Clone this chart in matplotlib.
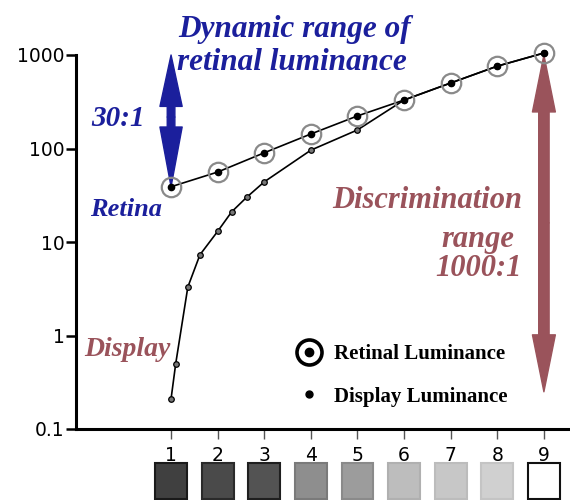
import matplotlib.pyplot as plt
from matplotlib.lines import Line2D
from matplotlib.patches import Rectangle
from matplotlib.legend_handler import HandlerTuple
import matplotlib.transforms as mtransforms

# data
steps = [1, 2, 3, 4, 5, 6, 7, 8, 9]
retinal = [39, 56, 90, 143, 223, 330, 502, 760, 1050]

display_x = [1, 1.1, 1.36, 1.62, 2, 2.3, 2.62, 3, 4, 5, 6, 7, 8, 9]
display = [0.21, 0.5, 3.3, 7.3, 13, 21, 30, 44, 96, 158, 330, 502, 760, 1050]

ytick_vals = [0.1, 1, 10, 100, 1000]
ytick_labels = ['0.1', '1', '10', '100', '1000']
xtick_labels = ['1', '2', '3', '4', '5', '6', '7', '8', '9']

swatch_colors = ['#404040', '#4a4a4a', '#535353', '#8e8e8e', '#9c9c9c',
                 '#bdbdbd', '#c7c7c7', '#d0d0d0', '#ffffff']
swatch_edges = ['#1a1a1a', '#2a2a2a', '#1f1f1f', '#7a7a7a', '#8a8a8a',
                '#b0b0b0', '#bcbcbc', '#c4c4c4', '#111111']

BLUE = '#1b1f9c'
MAROON = '#9a535b'
serif_bi = dict(family='Liberation Serif', weight='bold', style='italic')

fig = plt.figure(figsize=(5.7, 5.0), dpi=100)
ax = fig.add_axes([0.1333, 0.142, 0.8667, 0.748])
ax.set_yscale('log')
ax.set_ylim(0.1, 1000)
ax.set_xlim(-1.04, 9.56)

for side in ['top', 'right']:
    ax.spines[side].set_visible(False)
ax.spines['left'].set_linewidth(2.2)
ax.spines['bottom'].set_linewidth(2.2)

ax.set_yticks(ytick_vals)
ax.set_yticklabels(ytick_labels)
ax.minorticks_off()
ax.tick_params(axis='y', length=7, width=1.8, pad=1, labelsize=13.5)
ax.set_xticks(steps)
ax.set_xticklabels(xtick_labels)
ax.tick_params(axis='x', length=7, width=1.0, color='#555555', pad=5.5, labelsize=13.5)

# curves
ax.plot(display_x, display, color='black', lw=1.2, marker='o', ms=4,
        mfc='#777777', mec='black', mew=0.9, clip_on=False, zorder=3)
ax.plot(steps, retinal, color='black', lw=1.2, clip_on=False, zorder=3)
ax.plot(steps, retinal, ls='none', marker='o', ms=14, mfc='none',
        mec='#8a8a8a', mew=1.6, clip_on=False, zorder=4)
ax.plot(steps, retinal, ls='none', marker='o', ms=4.5, color='black',
        clip_on=False, zorder=5)

# grey swatches under the ticks
trans = mtransforms.blended_transform_factory(ax.transData, ax.transAxes)
for x, fc, ec in zip(steps, swatch_colors, swatch_edges):
    ax.add_patch(Rectangle((x - 0.34, -0.186), 0.68, 0.094, transform=trans,
                           facecolor=fc, edgecolor=ec, lw=1.5, clip_on=False))

# blue 30:1 arrow (two heads meeting at a neck)
blue_mid = 217
for tip, hl in [(1000, 37), (retinal[0], 43)]:
    ax.annotate('', xy=(1, tip), xytext=(1, blue_mid), annotation_clip=False,
                arrowprops=dict(arrowstyle=f'simple,head_length={hl},head_width=16,tail_width=5.5',
                                mutation_scale=1, color=BLUE, shrinkA=0, shrinkB=0))

# maroon discrimination arrow
m_mid = 16
m_style = 'simple,head_length=41,head_width=16.5,tail_width=7.5'
for tip in [1000, 0.25]:
    ax.annotate('', xy=(9, tip), xytext=(9, m_mid), annotation_clip=False,
                arrowprops=dict(arrowstyle=m_style, mutation_scale=1,
                                color=MAROON, shrinkA=0, shrinkB=0))

# labels
fig.text(0.5175, 0.942, 'Dynamic range of', color=BLUE, fontsize=22.5,
         ha='center', va='center', **serif_bi)
fig.text(0.512, 0.876, 'retinal luminance', color=BLUE, fontsize=22.5,
         ha='center', va='center', **serif_bi)
fig.text(0.207, 0.762, '30:1', color=BLUE, fontsize=21, ha='center',
         va='center', **serif_bi)
fig.text(0.221, 0.58, 'Retina', color=BLUE, fontsize=19, ha='center',
         va='center', **serif_bi)
fig.text(0.223, 0.30, 'Display', color=MAROON, fontsize=20, ha='center',
         va='center', **serif_bi)
fig.text(0.749, 0.60, 'Discrimination', color=MAROON, fontsize=22,
         ha='center', va='center', **serif_bi)
fig.text(0.839, 0.522, 'range', color=MAROON, fontsize=22, ha='center',
         va='center', **serif_bi)
fig.text(0.840, 0.464, '1000:1', color=MAROON, fontsize=22, ha='center',
         va='center', **serif_bi)

# legend
ring = Line2D([], [], ls='none', marker='o', ms=18, mfc='none', mec='black', mew=2.6)
dot = Line2D([], [], ls='none', marker='o', ms=6, color='black')
small = Line2D([], [], ls='none', marker='o', ms=5, color='black')
ax.legend([(ring, dot), small], ['Retinal Luminance', 'Display Luminance'],
          handler_map={tuple: HandlerTuple(ndivide=1)},
          loc='upper left', bbox_to_anchor=(0.434, 0.25), frameon=False,
          handlelength=1.0, handletextpad=0.7, labelspacing=1.1,
          borderaxespad=0,
          prop=dict(family='Liberation Serif', weight='bold', size=15))

fig.savefig('out.png', dpi=100)
